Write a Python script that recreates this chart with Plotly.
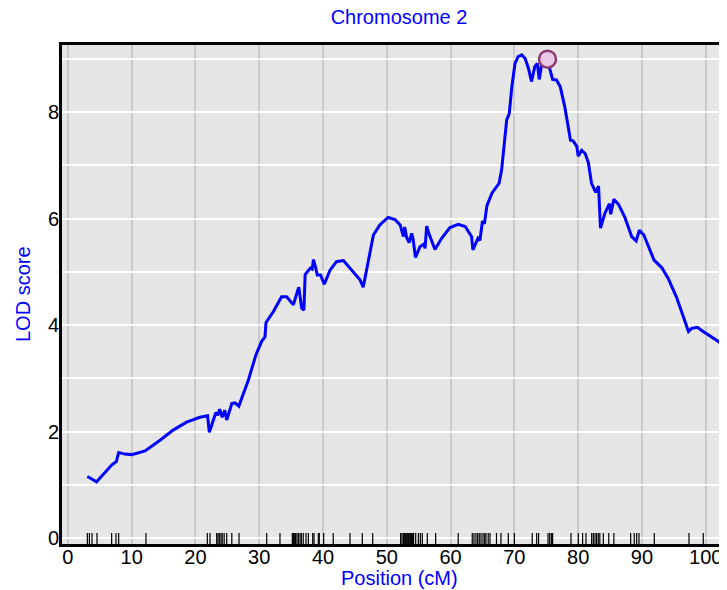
import plotly.graph_objects as go

# LOD curve (position in cM, LOD score)
positions = [3.05, 4.5, 6.86, 7.6, 7.96, 8.95, 10.0, 12.1, 14.45, 16.5, 18.6, 20.7, 21.9, 22.17,
             23.2, 23.5, 23.8, 24.2, 24.6, 24.9, 25.7, 26.2, 26.8, 28.3, 29.5, 30.4, 30.9, 31.06,
             32.2, 33.5, 34.3, 35.35, 35.9, 36.2, 36.65, 37.0, 37.2, 38.0, 38.3, 38.5, 38.8, 39.1,
             39.6, 40.2, 41.1, 42.1, 43.2, 44.2, 45.0, 45.8, 46.3, 47.1, 47.9, 48.9, 50.2, 51.3,
             52.1, 52.6, 52.8, 53.1, 53.5, 53.9, 54.1, 54.5, 55.2, 55.8, 56.0, 56.25, 56.6, 57.55,
             58.6, 59.9, 61.2, 62.3, 63.3, 63.5, 64.0, 64.3, 64.6, 65.0, 65.3, 65.7, 66.5, 67.2,
             67.6, 68.0, 68.8, 69.2, 69.6, 70.1, 70.6, 71.15, 71.7, 72.2, 72.7, 73.2, 73.6, 73.9,
             74.3, 74.8, 75.2, 75.6, 76.0, 76.6, 77.2, 77.9, 78.5, 78.8, 79.2, 79.8, 80.0, 80.55,
             81.1, 81.6, 82.1, 82.75, 83.2, 83.5, 84.2, 84.9, 85.1, 85.6, 86.3, 87.3, 88.4, 89.1,
             89.6, 90.3, 91.9, 93.1, 94.1, 95.4, 97.3, 97.8, 98.7, 99.6, 103.3, 104.7]
lod = [1.16, 1.06, 1.375, 1.44, 1.61, 1.58, 1.57, 1.64, 1.84, 2.03, 2.18, 2.27, 2.30, 1.99,
       2.36, 2.31, 2.42, 2.27, 2.40, 2.22, 2.53, 2.54, 2.48, 2.97, 3.45, 3.70, 3.78, 4.05,
       4.25, 4.53, 4.53, 4.38, 4.60, 4.71, 4.32, 4.28, 4.95, 5.07, 5.05, 5.23, 5.10, 4.94,
       4.94, 4.77, 5.03, 5.19, 5.21, 5.07, 4.97, 4.85, 4.71, 5.22, 5.69, 5.88, 6.02, 5.98,
       5.88, 5.66, 5.84, 5.65, 5.55, 5.72, 5.63, 5.27, 5.47, 5.52, 5.44, 5.86, 5.72, 5.42,
       5.63, 5.83, 5.89, 5.85, 5.66, 5.41, 5.53, 5.63, 5.59, 5.95, 5.90, 6.24, 6.48, 6.60,
       6.66, 6.91, 7.85, 7.97, 8.47, 8.91, 9.04, 9.07, 9.00, 8.82, 8.57, 8.85, 8.91, 8.61,
       8.91, 8.99, 8.99, 8.79, 8.61, 8.60, 8.47, 8.10, 7.72, 7.47, 7.46, 7.35, 7.17, 7.28,
       7.22, 7.05, 6.66, 6.49, 6.61, 5.82, 6.10, 6.28, 6.08, 6.36, 6.27, 6.03, 5.66, 5.58,
       5.78, 5.69, 5.22, 5.08, 4.88, 4.53, 3.88, 3.94, 3.96, 3.88, 3.59, 3.48]

# highlighted marker
peak_pos = [75.2]
peak_lod = [8.99]

# genetic marker positions (rug)
markers = [3.05, 3.37, 3.78, 4.56, 6.86, 7.54, 7.96, 12.24, 21.86, 22.28, 23.33, 23.53, 23.74,
           24.0, 24.2, 24.5, 24.9, 25.7, 26.83, 31.17, 33.25, 35.19, 35.35, 35.5, 35.7, 35.92,
           36.13, 36.4, 36.6, 36.9, 37.33, 37.7, 38.38, 38.59, 39.26, 39.42, 40.1, 41.6, 44.23,
           46.16, 47.79, 52.17, 52.38, 52.6, 52.8, 52.96, 53.12, 53.28, 53.43, 53.6, 53.74, 53.9,
           54.05, 54.2, 54.53, 54.95, 55.26, 55.57, 56.35, 57.66, 61.2, 63.4, 63.67, 63.98, 64.25,
           64.5, 64.77, 65.08, 65.35, 65.55, 65.9, 66.18, 67.2, 67.9, 69.05, 70.0, 72.8, 73.5,
           73.8, 75.28, 75.54, 75.8, 76.0, 78.88, 80.03, 80.7, 81.23, 82.12, 82.38, 82.65, 82.9,
           83.16, 83.4, 83.95, 84.8, 85.6, 88.24, 88.8, 89.18, 89.54, 91.94, 97.38, 99.62]

y_tick_vals = [0, 1, 2, 3, 4, 5, 6, 7, 8, 9]
y_tick_text = ["0", "", "2", "", "4", "", "6", "", "8", ""]
x_tick_vals = [0, 10, 20, 30, 40, 50, 60, 70, 80, 90, 100]

FONT = "Helvetica, Liberation Sans, Arial, sans-serif"
FS = 20

rug_x, rug_y = [], []
for m in markers:
    rug_x += [m, m, None]
    rug_y += [-0.11, 0.10, None]

# the page body has an 8px margin, so the figure is sized/placed to compensate
W, H = 719, 582

fig = go.Figure()
fig.add_trace(go.Scatter(x=rug_x, y=rug_y, mode="lines",
                         line=dict(color="black", width=1.2), hoverinfo="skip", showlegend=False))
fig.add_trace(go.Scatter(x=positions, y=lod, mode="lines",
                         line=dict(color="#0000ff", width=3), showlegend=False))
fig.add_trace(go.Scatter(x=peak_pos, y=peak_lod, mode="markers",
                         marker=dict(size=17, color="#e8c8e4",
                                     line=dict(color="#8e3a72", width=2.5)),
                         showlegend=False))

fig.update_layout(
    width=W, height=H,
    margin=dict(l=54, r=0, t=37, b=46),
    paper_bgcolor="white", plot_bgcolor="#e6e6e6",
    font=dict(family=FONT, size=FS, color="black"),
    title=dict(text="Chromosome 2", font=dict(family=FONT, size=FS, color="#0000ff"),
               x=391 / W, xref="container", xanchor="center",
               y=1 - 9 / H, yref="container", yanchor="middle"),
    xaxis=dict(range=[-0.925, 103.34], tickvals=x_tick_vals, showgrid=True,
               gridcolor="#c9c9c9", gridwidth=2, zeroline=False,
               showline=True, linecolor="black", linewidth=3, mirror=True,
               ticks="", ticklabelstandoff=-7, tickfont=dict(size=FS)),
    yaxis=dict(range=[-0.107, 9.256], tickvals=y_tick_vals, ticktext=y_tick_text,
               showgrid=True, gridcolor="white", gridwidth=2, zeroline=False,
               showline=True, linecolor="black", linewidth=3, mirror=False,
               ticks="", ticklabelstandoff=-4, tickfont=dict(size=FS)),
    annotations=[
        dict(text="Position (cM)", xref="paper", yref="paper",
             x=(399 - 62) / 665, y=(544 - 578) / 499, xanchor="center", yanchor="middle",
             showarrow=False, font=dict(family=FONT, size=FS, color="#0000ff")),
        dict(text="LOD score", xref="paper", yref="paper", textangle=-90,
             x=(22.5 - 62) / 665, y=0.5, xanchor="center", yanchor="middle",
             showarrow=False, font=dict(family=FONT, size=FS, color="#0000ff")),
    ],
)

fig.write_html("out.html")
